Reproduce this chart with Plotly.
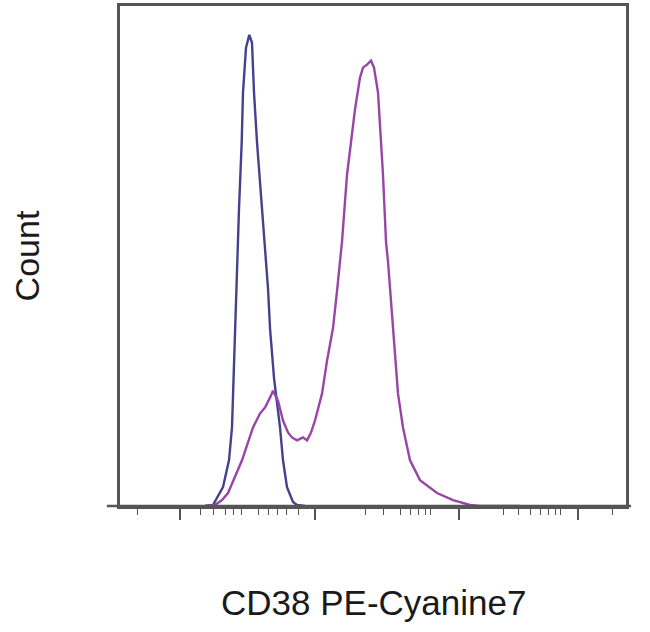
import plotly.graph_objects as go

# Channel position (0 = left frame edge) and count values
blue_x = [85, 93, 103, 109, 112, 114, 116.7, 117.7, 119, 121.7, 123, 126, 129.3,
          132, 134, 137, 142, 148, 150, 154, 160, 163, 167, 173, 177, 185]
blue_y = [0, 1, 19, 46, 79, 146, 219, 246, 299, 366, 416, 461, 474,
          466, 416, 366, 299, 219, 179, 129, 79, 46, 19, 4, 1, 0]

mag_x = [85, 95, 102, 108, 122, 133, 140, 145, 150, 153, 158, 163, 168, 172, 177,
         183, 187, 191, 195, 202, 207, 213, 217, 220, 222, 227, 235, 240, 243, 247,
         251, 254, 258, 263, 266, 268, 273, 278, 283, 290, 300, 317, 333, 350, 360, 400]
mag_y = [0, 1, 6, 13, 46, 79, 93, 99, 109, 116, 106, 86, 74, 69, 66,
         69, 66, 74, 86, 113, 146, 179, 216, 246, 266, 333, 399, 431, 441, 444,
         448, 441, 416, 333, 266, 246, 179, 113, 79, 46, 26, 13, 6, 1, 0, 0]

major_ticks = [60, 195, 339, 458]
minor_ticks = [17, 80, 93, 105, 113, 121, 138, 148, 157, 166, 178,
               245, 263, 280, 290, 298, 305, 310,
               383, 398, 410, 420, 428, 435, 440, 492]

line_col = "#555555"

fig = go.Figure()
fig.add_trace(go.Scatter(x=blue_x, y=blue_y, mode="lines",
                         line=dict(color="#42428f", width=2.4), showlegend=False))
fig.add_trace(go.Scatter(x=mag_x, y=mag_y, mode="lines",
                         line=dict(color="#9845a8", width=2.4), showlegend=False))

fig.update_layout(
    width=650, height=632,
    margin=dict(l=120, r=24, t=3, b=126),
    plot_bgcolor="white", paper_bgcolor="white",
    font=dict(family="Liberation Sans, Arial, sans-serif", color="#1a1a1a"),
    xaxis=dict(range=[0, 506], showgrid=False, zeroline=False,
               showline=True, linecolor=line_col, linewidth=2.5, mirror=True,
               tickmode="array", tickvals=major_ticks, ticktext=[""] * len(major_ticks),
               ticks="outside", ticklen=11, tickwidth=1.5, tickcolor=line_col,
               minor=dict(tickmode="array", tickvals=minor_ticks, ticks="outside",
                          ticklen=6, tickwidth=1.2, tickcolor=line_col, showgrid=False)),
    yaxis=dict(range=[0, 503], showgrid=False, zeroline=False,
               showline=True, linecolor=line_col, linewidth=2.5, mirror=True,
               showticklabels=False, ticks=""),
    shapes=[dict(type="line", xref="paper", yref="paper",
                 x0=-0.026, x1=1.01, y0=0, y1=0,
                 line=dict(color=line_col, width=2.5), layer="above")],
    annotations=[
        dict(text="CD38 PE-Cyanine7", xref="paper", yref="paper", x=0.5, y=-0.193,
             xanchor="center", yanchor="middle", showarrow=False,
             font=dict(size=35, color="#1a1a1a")),
        dict(text="Count", xref="paper", yref="paper", x=-0.183, y=0.5,
             xanchor="center", yanchor="middle", textangle=-90, showarrow=False,
             font=dict(size=34, color="#1a1a1a")),
    ],
)

fig.write_html("out.html", config={"displayModeBar": False},
               post_script="document.body.style.margin='0';document.body.style.overflow='hidden';")
